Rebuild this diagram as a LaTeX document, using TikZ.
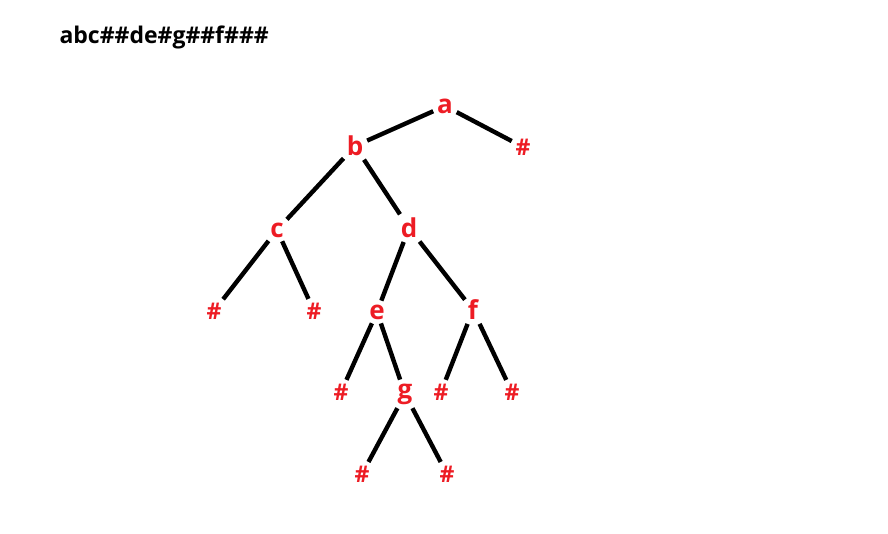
\documentclass[tikz,border=0pt]{standalone}
\usepackage{fontspec}
\setmainfont{Open Sans}
\usepackage{tikz}
\usepackage{xcolor}
\definecolor{ColA}{RGB}{237,28,36}
\tikzstyle{NodeTree}=[text=ColA,inner sep=1pt,font=\fontsize{26}{28}\selectfont\bfseries]
\tikzstyle{LeafTree}=[NodeTree,font=\fontsize{23}{25}\selectfont\bfseries]
\tikzstyle{EdgeTree}=[black,line width=4.4pt,shorten <=3pt,shorten >=3pt]

\begin{document}
\begin{tikzpicture}[x=1pt,y=-1pt]
        \useasboundingbox(0,0)rectangle(888,534);
        \node[anchor=west,font=\fontsize{23}{25}\selectfont\bfseries](seq)at(56,37){abc\#\#de\#g\#\#f\#\#\#};
        \node[NodeTree](a)at(445,106){a};
        \node[NodeTree](b)at(355,146){b};
        \node[LeafTree](na)at(523,147){\#};
        \node[NodeTree](c)at(277,230){c};
        \node[NodeTree](d)at(409,228){d};
        \node[LeafTree](nc1)at(214,311){\#};
        \node[LeafTree](nc2)at(314,311){\#};
        \node[NodeTree](e)at(377,312){e};
        \node[NodeTree](f)at(473,310){f};
        \node[LeafTree](ne)at(341,392){\#};
        \node[NodeTree](g)at(405,394){g};
        \node[LeafTree](nf1)at(441,392){\#};
        \node[LeafTree](nf2)at(512,392){\#};
        \node[LeafTree](ng1)at(362,474){\#};
        \node[LeafTree](ng2)at(447,474){\#};
        \draw[EdgeTree](a)--(b);
        \draw[EdgeTree](a)--(na);
        \draw[EdgeTree](b)--(c);
        \draw[EdgeTree](b)--(d);
        \draw[EdgeTree](c)--(nc1);
        \draw[EdgeTree](c)--(nc2);
        \draw[EdgeTree](d)--(e);
        \draw[EdgeTree](d)--(f);
        \draw[EdgeTree](e)--(ne);
        \draw[EdgeTree](e)--(g);
        \draw[EdgeTree](f)--(nf1);
        \draw[EdgeTree](f)--(nf2);
        \draw[EdgeTree](g)--(ng1);
        \draw[EdgeTree](g)--(ng2);
    \end{tikzpicture}
\end{document}
